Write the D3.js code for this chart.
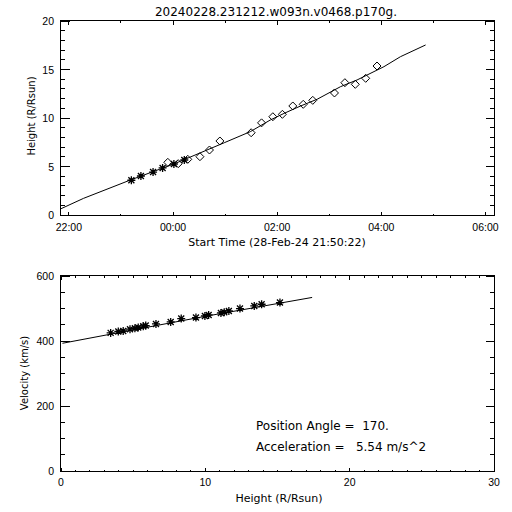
<!DOCTYPE html>
<html><head><meta charset="utf-8">
<script src="https://cdn.jsdelivr.net/npm/d3@7"></script>
<style>
html,body{margin:0;padding:0;background:#fff;}
svg{display:block;font-family:"DejaVu Sans",sans-serif;}
text{fill:#000;white-space:pre;}
.tick{font-family:"Liberation Sans",sans-serif;}
</style></head>
<body>
<script>
// ---------- DATA ----------
const titleText = "20240228.231212.w093n.v0468.p170g.";
const startTime = "2024-02-28T21:50:22Z";
const endTime = "2024-02-29T06:10:22Z";
const timeTicks = ["22:00","00:00","02:00","04:00","06:00"];
// C2 points (asterisks)
const c2Times = ["23:12","23:23","23:37","23:48","00:01","00:13"];
const c2Heights = [3.58,4.02,4.43,4.85,5.26,5.67];
// C3 points (diamonds)
const c3Times = ["23:54","00:06","00:17","00:31","00:42","00:54","01:30","01:42","01:55","02:06","02:18","02:30","02:41","03:06","03:18","03:30","03:42","03:55"];
const c3Heights = [5.43,5.29,5.74,6.01,6.70,7.63,8.48,9.50,10.13,10.38,11.24,11.41,11.82,12.58,13.64,13.47,14.09,15.36];
// fitted height-time curve
const fitTimes = ["21:51","22:17","23:11","00:01","00:59","01:29","01:52","02:08","02:27","02:46","03:13","03:32","04:03","04:22","04:51"];
const fitHeights = [0.65,1.72,3.61,5.26,7.45,8.59,9.79,10.48,11.24,11.93,13.23,13.92,15.29,16.32,17.53];
// velocity vs height
const velHeights = [3.44,3.97,4.31,4.78,5.12,5.35,5.70,5.87,6.58,7.60,8.33,9.35,9.97,10.23,11.08,11.31,11.63,12.40,13.39,13.90,15.17];
const velValues = [424.9,429.2,431.0,436.3,439.3,441.5,445.5,447.6,452.5,458.7,469.1,472.2,477.1,480.2,486.3,488.5,492.5,499.8,507.8,513.1,518.3];
const velFitHeights = [0.1,10.0,17.4];
const velFitValues = [393,476,534];
const annotLines = ["Position Angle =  170.", "Acceleration =   5.54 m/s^2"];

// ---------- HELPERS ----------
function parseClock(s){
  const [h,m] = s.split(":").map(Number);
  const day = h < 12 ? "2024-02-29" : "2024-02-28";
  return new Date(`${day}T${String(h).padStart(2,"0")}:${String(m).padStart(2,"0")}:00Z`);
}
const W=512,H=512;
const svg = d3.select("body").append("svg").attr("width",W).attr("height",H);
svg.append("rect").attr("width",W).attr("height",H).attr("fill","#fff");

const FS = 10.5;
function drawFrame(g, x0,x1,y0,y1){
  g.append("rect").attr("x",x0).attr("y",y1).attr("width",x1-x0).attr("height",y0-y1)
    .attr("fill","none").attr("stroke","#000").attr("stroke-width",1).attr("shape-rendering","crispEdges");
}
function tickLines(g, list, orient, len){
  g.selectAll(null).data(list).enter().append("line")
    .attr("stroke","#000").attr("shape-rendering","crispEdges")
    .attr("x1",d=> (orient==='l'||orient==='r')? len.x : d)
    .attr("x2",d=> orient==='l'? len.x+len.l : orient==='r'? len.x-len.l : d)
    .attr("y1",d=> (orient==='b'||orient==='t')? len.y : d)
    .attr("y2",d=> orient==='b'? len.y-len.l : orient==='t'? len.y+len.l : d);
}

// ---------- TOP PLOT ----------
const t = {l:60.5, r:494.5, t:20.5, b:215.5};
const xT = d3.scaleUtc().domain([new Date(startTime), new Date(endTime)]).range([t.l, t.r]);
const yT = d3.scaleLinear().domain([0,20]).range([215, 21]);
const gT = svg.append("g");

svg.append("text").attr("x",276).attr("y",16).attr("text-anchor","middle")
  .attr("font-size",12).text(titleText);

const majT = timeTicks.map(parseClock).map(d=>xT(d));
const minT = d3.utcHour.range(new Date(startTime), new Date(endTime)).map(d=>xT(d)).filter(v=>!majT.some(m=>Math.abs(m-v)<1));
tickLines(gT, majT, 'b', {y:t.b, l:4});
tickLines(gT, majT, 't', {y:t.t, l:4});
tickLines(gT, minT, 'b', {y:t.b, l:2});
tickLines(gT, minT, 't', {y:t.t, l:2});
const yMajT = yT.ticks(4).map(yT);
const yMinT = d3.range(0,21,1).filter(v=>v%5).map(yT);
tickLines(gT, yMajT, 'l', {x:t.l, l:9});
tickLines(gT, yMajT, 'r', {x:t.r, l:9});
tickLines(gT, yMinT, 'l', {x:t.l, l:4.5});
tickLines(gT, yMinT, 'r', {x:t.r, l:4.5});
drawFrame(gT, t.l,t.r,t.b,t.t);

gT.selectAll(null).data(timeTicks).enter().append("text").attr("class","tick")
  .attr("x",d=>xT(parseClock(d))).attr("y",231).attr("text-anchor","middle")
  .attr("font-size",FS).text(d=>d);
gT.selectAll(null).data(yT.ticks(4)).enter().append("text").attr("class","tick")
  .attr("x",54).attr("y",d=>yT(d)+4).attr("text-anchor","end")
  .attr("font-size",FS).text(d=>d);
gT.append("text").attr("x",277).attr("y",246).attr("text-anchor","middle")
  .attr("font-size",11).text("Start Time (28-Feb-24 21:50:22)");
gT.append("text").attr("transform","translate(35,116) rotate(-90)").attr("text-anchor","middle")
  .attr("font-size",10).text("Height (R/Rsun)");

gT.append("path").datum(fitTimes.map((d,i)=>[parseClock(d),fitHeights[i]]))
  .attr("fill","none").attr("stroke","#000").attr("stroke-width",1)
  .attr("d", d3.line().x(d=>xT(d[0])).y(d=>yT(d[1])));

const asterisk = "M-4,0L4,0M0,-4L0,4M-3,-3L3,3M-3,3L3,-3";
const diamond = "M0,-4L4,0L0,4L-4,0Z";
gT.selectAll(null).data(c3Times.map((d,i)=>[parseClock(d),c3Heights[i]])).enter().append("path")
  .attr("transform",d=>`translate(${xT(d[0])},${yT(d[1])})`).attr("d",diamond)
  .attr("fill","none").attr("stroke","#000");
gT.selectAll(null).data(c2Times.map((d,i)=>[parseClock(d),c2Heights[i]])).enter().append("path")
  .attr("transform",d=>`translate(${xT(d[0])},${yT(d[1])})`).attr("d",asterisk)
  .attr("fill","none").attr("stroke","#000").attr("stroke-width",1.3);

// ---------- BOTTOM PLOT ----------
const b = {l:60.5, r:494.5, t:275.5, b:471.5};
const xB = d3.scaleLinear().domain([0,30]).range([61,494]);
const yB = d3.scaleLinear().domain([0,600]).range([471,276]);
const gB = svg.append("g");
const xMajB = [0,10,20,30].map(xB);
const xMinB = d3.range(0,31,1).filter(v=>v%10).map(xB);
tickLines(gB, xMajB, 'b', {y:b.b, l:4});
tickLines(gB, xMajB, 't', {y:b.t, l:4});
tickLines(gB, xMinB, 'b', {y:b.b, l:2});
tickLines(gB, xMinB, 't', {y:b.t, l:2});
const yMajB = [0,200,400,600].map(yB);
const yMinB = d3.range(0,601,50).filter(v=>v%200).map(yB);
tickLines(gB, yMajB, 'l', {x:b.l, l:9});
tickLines(gB, yMajB, 'r', {x:b.r, l:9});
tickLines(gB, yMinB, 'l', {x:b.l, l:4.5});
tickLines(gB, yMinB, 'r', {x:b.r, l:4.5});
drawFrame(gB, b.l,b.r,b.b,b.t);

gB.selectAll(null).data([0,10,20,30]).enter().append("text").attr("class","tick")
  .attr("x",d=>xB(d)).attr("y",486).attr("text-anchor","middle")
  .attr("font-size",FS).text(d=>d);
gB.selectAll(null).data([0,200,400,600]).enter().append("text").attr("class","tick")
  .attr("x",54).attr("y",d=>yB(d)+4).attr("text-anchor","end")
  .attr("font-size",FS).text(d=>d);
gB.append("text").attr("x",279).attr("y",502).attr("text-anchor","middle")
  .attr("font-size",11).text("Height (R/Rsun)");
gB.append("text").attr("transform","translate(28,373) rotate(-90)").attr("text-anchor","middle")
  .attr("font-size",10).text("Velocity (km/s)");

gB.append("path").datum(velFitHeights.map((d,i)=>[d,velFitValues[i]]))
  .attr("fill","none").attr("stroke","#000").attr("stroke-width",1)
  .attr("d", d3.line().x(d=>xB(d[0])).y(d=>yB(d[1])));
gB.selectAll(null).data(velHeights.map((d,i)=>[d,velValues[i]])).enter().append("path")
  .attr("transform",d=>`translate(${xB(d[0])},${yB(d[1])})`).attr("d",asterisk)
  .attr("fill","none").attr("stroke","#000").attr("stroke-width",1.3);

gB.selectAll(null).data(annotLines).enter().append("text")
  .attr("x",256).attr("y",(d,i)=>429.5+i*21).attr("font-size",12).text(d=>d);
</script>
</body></html>
